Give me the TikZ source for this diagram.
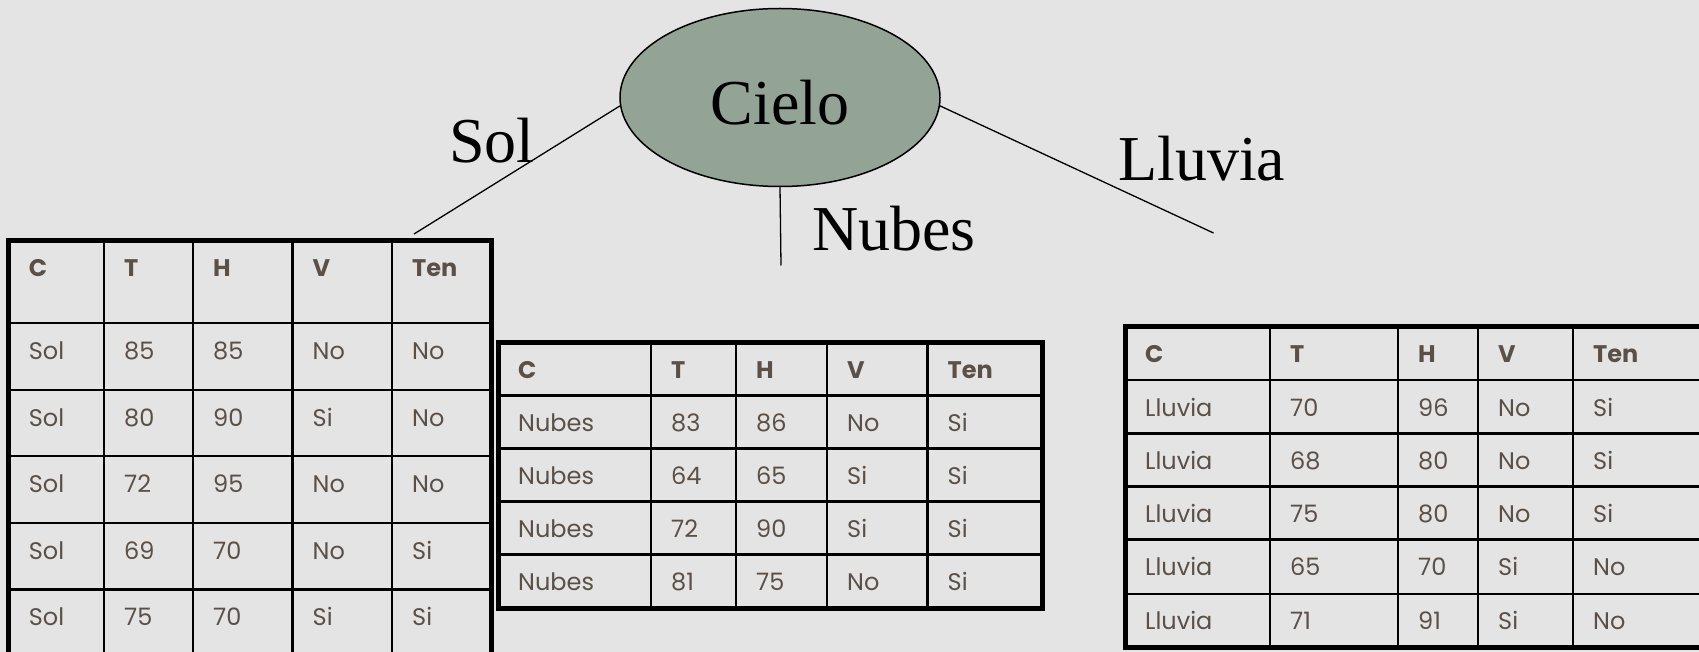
\documentclass[tikz,border=0pt]{standalone}
\usepackage{fontspec}
\setmainfont{Liberation Serif}
\newfontfamily\tablafont{Poppins}
\usepackage{tikz}
\usetikzlibrary{shapes.geometric}

\definecolor{fondo}{HTML}{E4E4E4}
\definecolor{nodo}{HTML}{93A396}
\definecolor{texto}{HTML}{5B5047}

\tikzset{
	rama/.style={line width=1.3pt},
	etiqueta/.style={anchor=base west,inner sep=0pt,font=\fontsize{64}{70}\selectfont},
	celda/.style={anchor=base west,inner sep=0pt,text=texto,font=\tablafont\fontsize{24}{28}\selectfont},
	interior/.style={line width=2.6pt},
	borde/.style={line width=5pt}
}

\begin{document}
\begin{tikzpicture}[x=1pt,y=-1pt]
	\fill[fondo] (0,0) rectangle (1699,652);
	\useasboundingbox (0,0) rectangle (1699,652);
	\clip (0,0) rectangle (1699,652);

	% arbol
	\node (cielo) [draw,ellipse,fill=nodo,line width=1.5pt,minimum width=320pt,minimum height=178pt,
		text height=55pt,text depth=0.7pt,inner sep=0pt,font=\fontsize{64}{70}\selectfont] at (780,97.5) {Cielo};
	\coordinate (fsol) at (414,234);
	\coordinate (fnubes) at (781,265.5);
	\coordinate (flluvia) at (1213.5,233);
	\draw[rama] (cielo.183) -- (fsol);
	\draw[rama] (cielo.south) -- (fnubes);
	\draw[rama] (cielo.357) -- (flluvia);
	\node (lsol) [etiqueta] at (449,162.5) {Sol};
	\node (lnubes) [etiqueta] at (812,251) {Nubes};
	\node (llluvia) [etiqueta] at (1118,181) {Lluvia};

	% tabla sol
	\foreach \x in {104,193,292.5,392} \draw[interior] (\x,240.5) -- (\x,656);
	\foreach \y in {323,390,456,523,589.4} \draw[interior] (8.7,\y) -- (491,\y);
	\draw[borde] (8.7,240.5) rectangle (491,656);
	\foreach \vals [count=\r from 0] in {{C,T,H,V,Ten},{Sol,85,85,No,No},{Sol,80,90,Si,No},
		{Sol,72,95,No,No},{Sol,69,70,No,Si},{Sol,75,70,Si,Si}}
		\foreach \v [count=\c from 0] in \vals {
			\pgfmathsetmacro\cx{{8.7,104,193,292.5,392}[\c]}
			\pgfmathsetmacro\ry{{240.5,323,390,456,523,589.4}[\r]}
			\node (sol-\r-\c) [celda] at (\cx+20,\ry+36) {\ifnum\r=0\bfseries\fi\v};
		}

	% tabla nubes
	\foreach \x in {651,736,827,927.5} \draw[interior] (\x,342) -- (\x,608);
	\foreach \y in {395.5,448.6,501.7,554.7} \draw[interior] (498,\y) -- (1042,\y);
	\draw[borde] (498,342) rectangle (1042,608);
	\foreach \vals [count=\r from 0] in {{C,T,H,V,Ten},{Nubes,83,86,No,Si},{Nubes,64,65,Si,Si},
		{Nubes,72,90,Si,Si},{Nubes,81,75,No,Si}}
		\foreach \v [count=\c from 0] in \vals {
			\pgfmathsetmacro\cx{{498,651,736,827,927.5}[\c]}
			\pgfmathsetmacro\ry{{342,395.5,448.6,501.7,554.7}[\r]}
			\node (nubes-\r-\c) [celda] at (\cx+20,\ry+36) {\ifnum\r=0\bfseries\fi\v};
		}

	% tabla lluvia
	\foreach \x in {1270,1398,1478,1573} \draw[interior] (\x,326) -- (\x,647);
	\foreach \y in {380,433.4,486.5,539.6,593.8} \draw[interior] (1125,\y) -- (1720,\y);
	\draw[borde] (1125,326) rectangle (1720,647);
	\foreach \vals [count=\r from 0] in {{C,T,H,V,Ten},{Lluvia,70,96,No,Si},{Lluvia,68,80,No,Si},
		{Lluvia,75,80,No,Si},{Lluvia,65,70,Si,No},{Lluvia,71,91,Si,No}}
		\foreach \v [count=\c from 0] in \vals {
			\pgfmathsetmacro\cx{{1125,1270,1398,1478,1573}[\c]}
			\pgfmathsetmacro\ry{{326,380,433.4,486.5,539.6,593.8}[\r]}
			\node (lluvia-\r-\c) [celda] at (\cx+20,\ry+36) {\ifnum\r=0\bfseries\fi\v};
		}
\end{tikzpicture}
\end{document}
